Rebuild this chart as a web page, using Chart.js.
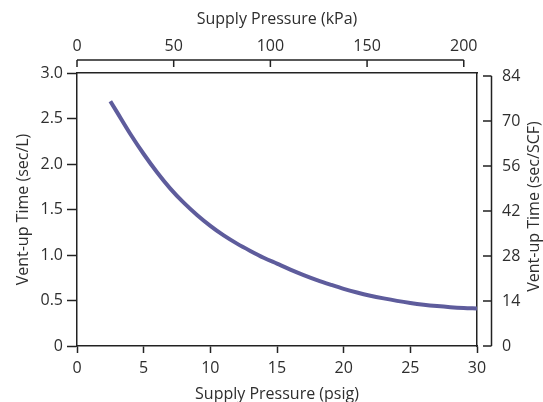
<!DOCTYPE html>
<html>
<head>
<meta charset="utf-8">
<script src="https://cdn.jsdelivr.net/npm/chart.js@4.4.0/dist/chart.umd.min.js"></script>
<style>
  html, body { margin: 0; padding: 0; background: #fff; }
  #wrap { width: 543px; height: 402px; position: relative; }
</style>
</head>
<body>
<div id="wrap"><canvas id="c" width="543" height="402"></canvas></div>
<script>
// Data
const pressurePsig = [2.5, 3, 4, 5, 6, 7, 8, 9, 10, 11, 12, 13, 14, 15, 16, 17, 18, 19, 20, 21, 22, 23, 24, 25, 26, 27, 28, 29, 30];
const ventUpTime   = [2.69, 2.57, 2.33, 2.11, 1.91, 1.73, 1.575, 1.44, 1.32, 1.215, 1.125, 1.045, 0.97, 0.905, 0.84, 0.78, 0.725, 0.675, 0.628, 0.588, 0.553, 0.523, 0.496, 0.473, 0.454, 0.439, 0.427, 0.418, 0.412];

const psigTicks = [0, 5, 10, 15, 20, 25, 30];
const kpaTicks = [0, 50, 100, 150, 200];
const secLTicks = [0, 0.5, 1.0, 1.5, 2.0, 2.5, 3.0];
const secScfTicks = [0, 14, 28, 42, 56, 70, 84];

const PSI_TO_KPA = 6.89476;
const L_PER_SCF = 28.3168;

const axisColor = '#222';
const textColor = '#2e2e2e';
const lineColor = '#5e5c9c';
const FONT_SIZE = 16;

Chart.defaults.font.family = "'Open Sans', sans-serif";
Chart.defaults.font.size = FONT_SIZE;
Chart.defaults.color = textColor;

const offsetAxes = {
  id: 'offsetAxes',
  afterDraw(chart) {
    const {ctx, chartArea} = chart;
    const x2 = chart.scales.x2, y2 = chart.scales.y2;
    ctx.save();
    ctx.strokeStyle = axisColor;
    ctx.lineWidth = 1.5;
    // top kPa axis
    const yLine = chartArea.top - 13, yTick = chartArea.top - 6;
    ctx.beginPath();
    ctx.moveTo(x2.getPixelForValue(kpaTicks[0]), yLine);
    ctx.lineTo(x2.getPixelForValue(kpaTicks[kpaTicks.length - 1]), yLine);
    kpaTicks.forEach(v => {
      const px = x2.getPixelForValue(v);
      ctx.moveTo(px, yLine);
      ctx.lineTo(px, yTick);
    });
    ctx.stroke();
    // right sec/SCF axis
    const xLine = chartArea.right + 14.5, xTick = chartArea.right + 6;
    ctx.beginPath();
    ctx.moveTo(xLine, y2.getPixelForValue(secScfTicks[secScfTicks.length - 1]));
    ctx.lineTo(xLine, y2.getPixelForValue(secScfTicks[0]));
    secScfTicks.forEach(v => {
      const py = y2.getPixelForValue(v);
      ctx.moveTo(xLine, py);
      ctx.lineTo(xTick, py);
    });
    ctx.stroke();
    // right axis title (reads bottom to top)
    ctx.fillStyle = textColor;
    ctx.font = FONT_SIZE + "px 'Open Sans', sans-serif";
    ctx.textAlign = 'center';
    ctx.textBaseline = 'middle';
    ctx.translate(534, (chartArea.top + chartArea.bottom) / 2 - 3);
    ctx.rotate(-Math.PI / 2);
    ctx.fillText('Vent-up Time (sec/SCF)', 0, 0);
    ctx.restore();
  }
};

new Chart(document.getElementById('c'), {
  type: 'line',
  data: {
    datasets: [{
      data: pressurePsig.map((x, i) => ({x: x, y: ventUpTime[i]})),
      borderColor: lineColor,
      borderWidth: 4,
      pointRadius: 0,
      cubicInterpolationMode: 'monotone',
      fill: false,
      xAxisID: 'x',
      yAxisID: 'y'
    }]
  },
  options: {
    responsive: false,
    animation: false,
    layout: { padding: 0 },
    plugins: { legend: { display: false }, tooltip: { enabled: false } },
    scales: {
      x: {
        type: 'linear', position: 'bottom', min: 0, max: 30,
        afterBuildTicks: s => { s.ticks = psigTicks.map(v => ({value: v})); },
        afterFit: s => { s.height = 56; },
        grid: { drawOnChartArea: false, tickLength: 7, tickColor: axisColor, tickWidth: 1.5 },
        border: { color: axisColor, width: 1.5 },
        ticks: { padding: 6, maxRotation: 0, color: textColor },
        title: { display: true, text: 'Supply Pressure (psig)', padding: {top: 0, bottom: -2}, color: textColor }
      },
      x2: {
        type: 'linear', position: 'top', min: 0, max: 30 * PSI_TO_KPA,
        afterBuildTicks: s => { s.ticks = kpaTicks.map(v => ({value: v})); },
        afterFit: s => { s.height = 73; },
        grid: { display: false, drawTicks: false },
        border: { display: true, color: axisColor, width: 1.5 },
        ticks: { padding: 17, maxRotation: 0, color: textColor },
        title: { display: true, text: 'Supply Pressure (kPa)', padding: {top: 10, bottom: 0}, color: textColor }
      },
      y: {
        type: 'linear', position: 'left', min: 0, max: 3.0,
        afterBuildTicks: s => { s.ticks = secLTicks.map(v => ({value: v})); },
        afterFit: s => { s.width = 77; },
        grid: { drawOnChartArea: false, tickLength: 10, tickColor: axisColor, tickWidth: 1.5 },
        border: { color: axisColor, width: 1.5 },
        ticks: { padding: 4, color: textColor, callback: v => v === 0 ? '0' : v.toFixed(1) },
        title: { display: true, text: 'Vent-up Time (sec/L)', padding: {top: 14, bottom: 0}, color: textColor }
      },
      y2: {
        type: 'linear', position: 'right', min: 0, max: 3.0 * L_PER_SCF,
        afterBuildTicks: s => { s.ticks = secScfTicks.map(v => ({value: v})); },
        afterFit: s => { s.width = 66; },
        grid: { display: false, drawTicks: false },
        border: { display: true, color: axisColor, width: 1.5 },
        ticks: { padding: 25, color: textColor, callback: v => String(v) },
        title: { display: false }
      }
    }
  },
  plugins: [offsetAxes]
});
</script>
</body>
</html>
